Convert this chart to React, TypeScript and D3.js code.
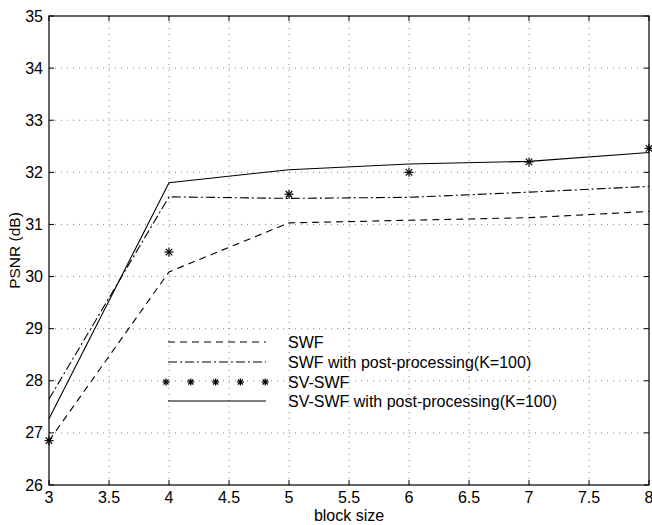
import React from "react";
import * as d3 from "d3";

const blockSizes = [3, 4, 5, 6, 7, 8];
const swf = [26.85, 30.09, 31.03, 31.08, 31.13, 31.25];
const swfPost = [27.65, 31.53, 31.5, 31.52, 31.62, 31.73];
const svSwf = [26.85, 30.47, 31.58, 32.0, 32.2, 32.46];
const svSwfPost = [27.27, 31.8, 32.05, 32.16, 32.21, 32.38];

const xTicks = [3, 3.5, 4, 4.5, 5, 5.5, 6, 6.5, 7, 7.5, 8];
const yTicks = [26, 27, 28, 29, 30, 31, 32, 33, 34, 35];

const legendLabels = [
  "SWF",
  "SWF with post-processing(K=100)",
  "SV-SWF",
  "SV-SWF with post-processing(K=100)",
];

const W = 652, H = 525;
const margin = { top: 16, right: 3, bottom: 40, left: 49 };
const font = "'Liberation Sans', Arial, Helvetica, sans-serif";

const Star = ({ x, y, r }: { x: number; y: number; r: number }) => {
  const d = r * 0.72;
  return (
    <g stroke="#000" strokeWidth={1.2}>
      <line x1={x - r} y1={y} x2={x + r} y2={y} />
      <line x1={x} y1={y - r} x2={x} y2={y + r} />
      <line x1={x - d} y1={y - d} x2={x + d} y2={y + d} />
      <line x1={x - d} y1={y + d} x2={x + d} y2={y - d} />
    </g>
  );
};

export default function App() {
  const x = d3.scaleLinear().domain([3, 8]).range([margin.left, W - margin.right]);
  const y = d3.scaleLinear().domain([26, 35]).range([H - margin.bottom, margin.top]);
  const line = (vals: number[]) =>
    d3.line<number>().x((_, i) => x(blockSizes[i])).y((v) => y(v))(vals) || "";

  const x0 = x(3), x1 = x(8), y0 = y(26), y1 = y(35);
  const tick = 5;

  const legX1 = 168, legX2 = 266, legText = 288;
  const legRows = [342, 362, 382, 401];

  return (
    <svg width={W} height={H} style={{ position: "absolute", left: 0, top: 0, background: "#fff" }}
      fontFamily={font}>
      <rect width={W} height={H} fill="#fff" />
      {/* grid */}
      <g stroke="#666" strokeWidth={0.8} strokeDasharray="1,5">
        {xTicks.slice(1, -1).map((t) => (
          <line key={"gx" + t} x1={x(t)} x2={x(t)} y1={y1} y2={y0} />
        ))}
        {yTicks.slice(1, -1).map((t) => (
          <line key={"gy" + t} x1={x0} x2={x1} y1={y(t)} y2={y(t)} />
        ))}
      </g>
      {/* box and ticks */}
      <rect x={x0} y={y1} width={x1 - x0} height={y0 - y1} fill="none" stroke="#000" strokeWidth={1.2} />
      <g stroke="#000" strokeWidth={1}>
        {xTicks.map((t) => (
          <g key={"tx" + t}>
            <line x1={x(t)} x2={x(t)} y1={y0} y2={y0 - tick} />
            <line x1={x(t)} x2={x(t)} y1={y1} y2={y1 + tick} />
          </g>
        ))}
        {yTicks.map((t) => (
          <g key={"ty" + t}>
            <line x1={x0} x2={x0 + tick} y1={y(t)} y2={y(t)} />
            <line x1={x1} x2={x1 - tick} y1={y(t)} y2={y(t)} />
          </g>
        ))}
      </g>
      <g fontSize={16} fill="#000">
        {xTicks.map((t) => (
          <text key={"lx" + t} x={x(t)} y={503} textAnchor="middle">{t}</text>
        ))}
        {yTicks.map((t) => (
          <text key={"ly" + t} x={x0 - 6} y={y(t) + 5.5} textAnchor="end">{t}</text>
        ))}
      </g>
      <text x={(x0 + x1) / 2} y={521} textAnchor="middle" fontSize={16}>block size</text>
      <text transform={`translate(20,${(y0 + y1) / 2}) rotate(-90)`} textAnchor="middle" fontSize={15.5}>PSNR (dB)</text>

      {/* series */}
      <g fill="none" stroke="#000" strokeWidth={1.1}>
        <path d={line(swf)} strokeDasharray="7,5" />
        <path d={line(swfPost)} strokeDasharray="9,3,2,3" />
        <path d={line(svSwfPost)} />
      </g>
      {svSwf.map((v, i) => (
        <Star key={"s" + i} x={x(blockSizes[i])} y={y(v)} r={4.5} />
      ))}

      {/* legend */}
      <g fill="none" stroke="#000" strokeWidth={1.1}>
        <line x1={legX1} x2={legX2} y1={legRows[0]} y2={legRows[0]} strokeDasharray="7,5" />
        <line x1={legX1} x2={legX2} y1={legRows[1]} y2={legRows[1]} strokeDasharray="9,3,2,3" />
        <line x1={legX1} x2={legX2} y1={legRows[3]} y2={legRows[3]} />
      </g>
      {d3.range(5).map((i) => (
        <Star key={"ls" + i} x={166 + i * 24.8} y={legRows[2]} r={3.5} />
      ))}
      <g fontSize={16} fill="#000">
        {legendLabels.map((l, i) => (
          <text key={l} x={legText} y={legRows[i] + 5.5}>{l}</text>
        ))}
      </g>
    </svg>
  );
}
